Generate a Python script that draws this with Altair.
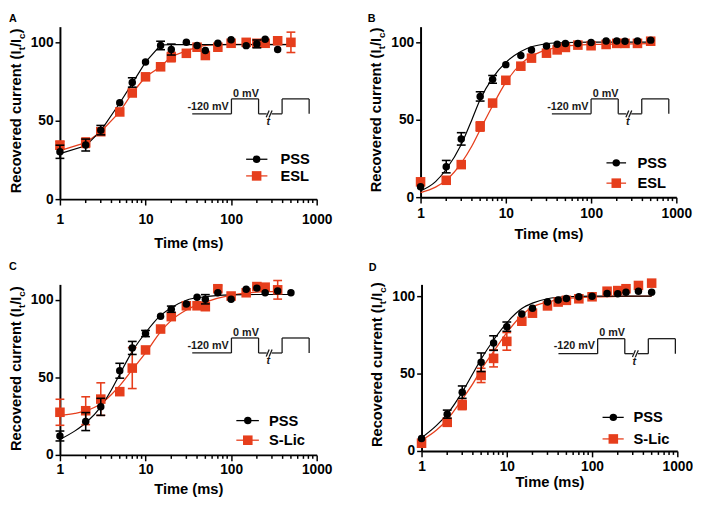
import altair as alt
import pandas as pd

FONT = "Liberation Sans"
BLACK = "#000000"
RED = "#E63E1C"
INK = "#1a1a1a"

TIMES = [1, 2, 3, 5, 7, 10, 15, 20, 30, 40, 50, 70, 100, 150, 200, 250, 350, 500]
CURVE_T = [1, 1.5, 2, 3, 4, 5, 7, 10, 15, 20, 30, 50, 100, 200, 500]
X_MAJOR = [1, 10, 100, 1000]
X_MINOR = [2, 3, 4, 5, 6, 7, 8, 9, 20, 30, 40, 50, 60, 70, 80, 90,
           200, 300, 400, 500, 600, 700, 800, 900]
Y_TICKS = [0, 50, 100]

# ---------------- Panel A ----------------
A_NAMES = ["PSS", "ESL"]
A_PSS = [30.2, 34.5, 44.0, 61.5, 74.4, 87.5, 98.0, 95.4, 100.0, 98.0, 94.8, 99.4, 101.7, 97.9, 99.0, 102.0, 95.4, None]
A_PSS_ERR = [4.2, 3.8, 3.0, 0, 3.0, 0, 2.7, 3.5, 0, 0, 0, 0, 0, 0, 2.5, 0, 0, None]
A_ESL = [34.4, 36.0, 43.0, 55.6, 67.7, 78.0, 84.4, 90.6, 93.0, 96.9, 91.6, 96.9, 99.4, 100.0, 99.4, 99.4, 101.0, 100.0]
A_ESL_ERR = [2.5, 3.0, 2.0, 0, 0, 0, 0, 3.0, 0, 0, 0, 0, 0, 0, 0, 0, 0, 6.5]
A_FIT_T = [1, 2, 3, 5, 7, 10, 15, 20, 30, 40, 50, 70, 100, 500]
A_PSS_FIT = [29.0, 34.0, 43.5, 61.3, 73.8, 87.4, 98.3, 98.5, 98.5, 98.5, 98.5, 98.5, 98.5, 98.5]
A_ESL_FIT = [31.0, 36.0, 43.0, 55.6, 67.7, 78.0, 84.4, 91.0, 94.5, 97.0, 98.0, 98.5, 98.7, 98.7]

# ---------------- Panel B ----------------
B_NAMES = ["PSS", "ESL"]
B_PSS = [6.7, 19.7, 37.6, 65.0, 76.0, 85.5, 91.4, 95.0, 97.5, 98.7, 99.2, 99.2, 99.8, 100.8, 100.8, 100.6, 100.8, 101.3]
B_PSS_ERR = [0, 4.0, 4.0, 3.0, 2.5, 0, 0, 0, 0, 0, 0, 0, 0, 0, 0, 0, 0, 0]
B_ESL = [9.9, 10.9, 21.0, 45.6, 60.7, 75.4, 84.5, 89.7, 92.9, 95.0, 96.6, 98.1, 97.7, 98.5, 99.2, 99.2, 99.2, 100.6]
B_ESL_ERR = [0, 0, 0, 3.0, 0, 0, 0, 0, 0, 0, 0, 0, 0, 0, 0, 0, 0, 0]
B_PSS_FIT = [4.0, 10.0, 18.0, 34.0, 50.0, 63.0, 77.0, 87.0, 94.0, 97.0, 99.0, 99.8, 100.0, 100.0, 100.0]
B_ESL_FIT = [3.0, 6.5, 11.0, 22.0, 33.0, 43.5, 59.0, 74.0, 86.0, 91.0, 95.0, 97.5, 98.5, 98.8, 99.0]

# ---------------- Panel C ----------------
C_NAMES = ["PSS", "S-Lic"]
C_PSS = [12.2, 21.5, 31.0, 54.3, 69.0, 78.3, 89.5, 94.0, 97.3, 101.7, 100.4, 104.6, 100.4, 106.8, 107.6, 104.6, 105.7, 104.6]
C_PSS_ERR = [3.2, 5.8, 5.5, 4.8, 4.2, 2.0, 0, 2.0, 0, 0, 3.0, 0, 0, 0, 0, 0, 0, 0]
C_SLIC = [27.5, 28.5, 36.0, 40.8, 56.0, 67.7, 81.2, 89.2, 96.2, 96.2, 95.6, 107.2, 102.5, 104.6, 108.6, 108.2, 106.5, None]
C_SLIC_ERR = [8.4, 9.0, 10.5, 0, 13.2, 0, 0, 0, 0, 0, 0, 2.0, 0, 0, 0, 0, 6.0, None]
C_PSS_FIT = [10.0, 15.5, 20.6, 31.0, 42.0, 52.0, 66.8, 78.8, 90.0, 95.0, 99.8, 102.0, 103.2, 103.5, 103.5]
C_SLIC_FIT_T = [1, 1.5, 2, 3, 4, 5, 7, 10, 15, 20, 30, 50, 100, 200, 350]
C_SLIC_FIT = [25.4, 26.8, 28.4, 33.0, 39.0, 44.7, 55.0, 65.8, 79.4, 86.8, 93.5, 98.5, 103.0, 105.0, 105.5]

# ---------------- Panel D ----------------
D_NAMES = ["PSS", "S-Lic"]
D_PSS = [8.0, 23.8, 38.0, 57.3, 69.7, 80.3, 88.5, 92.2, 96.2, 97.5, 98.5, 99.6, 100.0, 101.7, 101.5, 102.5, 103.2, 102.5]
D_PSS_ERR = [0, 2.6, 4.0, 6.0, 4.7, 3.0, 0, 0, 0, 0, 0, 0, 0, 0, 0, 0, 0, 0]
D_SLIC = [5.0, 18.5, 29.7, 48.8, 59.8, 70.8, 83.8, 89.0, 93.7, 96.2, 97.3, 98.3, 99.6, 103.2, 103.6, 104.8, 106.9, 108.4]
D_SLIC_ERR = [0, 0, 3.0, 4.6, 5.5, 5.7, 0, 0, 0, 0, 0, 0, 0, 0, 0, 0, 0, 0]
D_PSS_FIT = [8.5, 16.5, 23.8, 38.0, 50.0, 59.4, 71.7, 82.8, 92.0, 95.5, 98.3, 99.6, 100.0, 100.0, 100.0]
D_SLIC_FIT = [6.8, 13.5, 20.2, 33.4, 43.5, 52.5, 64.2, 76.4, 87.7, 93.0, 96.2, 98.5, 99.5, 99.8, 100.0]

Y_TITLE = [("Recovered current (I", False), ("t", True), ("/I", False), ("c", True), (")", False)]
INSET_TEXT = ["-120 mV", "0 mV", "t"]

# Arial/Liberation Sans Bold advance widths (per 1000 em), used for layout of the composed title
AW = {'R': 722, 'e': 556, 'c': 556, 'o': 611, 'v': 556, 'r': 389, 'd': 611, ' ': 278,
      'u': 611, 'n': 611, 't': 333, '(': 333, 'I': 278, '/': 278, ')': 333}


def tw(s, fs):
    return sum(AW[ch] for ch in s) * fs / 1000.0


def pts(means, errs):
    rows = [(t, m, e) for t, m, e in zip(TIMES, means, errs) if m is not None]
    df = pd.DataFrame(rows, columns=["t", "v", "e"])
    df["lo"] = df["v"] - df["e"]
    df["hi"] = df["v"] + df["e"]
    return df


def panel(p):
    xs = alt.Scale(type="log", domain=[1, 1000])
    ys = alt.Scale(domain=[0, p["ymax"]], nice=False)
    xaxis = alt.Axis(values=X_MAJOR, title="Time (ms)", format="d", tickSize=6,
                     labelPadding=p["lp"], titlePadding=p["tp"])
    yaxis = alt.Axis(values=Y_TICKS, title=None, tickSize=5, labelPadding=2)

    def X(f):
        return alt.X(f, type="quantitative", scale=xs, axis=xaxis)

    def Y(f):
        return alt.Y(f, type="quantitative", scale=ys, axis=yaxis)

    def PX(f):
        return alt.X(f, type="quantitative", scale=None)

    def PY(f):
        return alt.Y(f, type="quantitative", scale=None)

    layers = []
    # fitted curves
    red_fit = pd.DataFrame({"t": p["red_fit_t"], "v": p["red_fit"]})
    blk_fit = pd.DataFrame({"t": p["blk_fit_t"], "v": p["blk_fit"]})
    layers.append(alt.Chart(red_fit).mark_line(color=RED, strokeWidth=1.3, interpolate=p["interp"])
                  .encode(x=X("t"), y=Y("v")))
    layers.append(alt.Chart(blk_fit).mark_line(color=BLACK, strokeWidth=1.2, interpolate=p["interp"])
                  .encode(x=X("t"), y=Y("v")))

    # minor ticks of the log axis
    layers.append(alt.Chart(pd.DataFrame({"t": X_MINOR})).mark_rule(color=BLACK, strokeWidth=1.5)
                  .encode(x=X("t"), y=alt.value(p["h"]), y2=alt.value(p["h"] + 4)))

    for df, col, shape in [(p["red"], RED, "square"), (p["blk"], BLACK, "circle")]:
        err = df[df["e"] > 0]
        if len(err):
            layers.append(alt.Chart(err).mark_rule(color=col, strokeWidth=1.6)
                          .encode(x=X("t"), y=Y("lo"), y2="hi"))
            caps = pd.concat([err[["t", "lo"]].rename(columns={"lo": "c"}),
                              err[["t", "hi"]].rename(columns={"hi": "c"})])
            layers.append(alt.Chart(caps).mark_tick(color=col, thickness=1.6, size=9,
                                                    orient="horizontal", opacity=1)
                          .encode(x=X("t"), y=Y("c")))
        if shape == "square":
            layers.append(alt.Chart(df).mark_point(shape="square", filled=True, size=95,
                                                   color=col, opacity=1)
                          .encode(x=X("t"), y=Y("v")))
        else:
            layers.append(alt.Chart(df).mark_point(shape="circle", filled=True, size=58,
                                                   color=col, opacity=1)
                          .encode(x=X("t"), y=Y("v")))

    # inset: voltage protocol schematic (pixel space)
    ox, oy = p["inset"]
    h = 15.3
    segs = [(0, 0, 40, 0), (40, 0, 40, -h), (40, -h, 67.7, -h), (67.7, -h, 67.7, 0),
            (67.7, 0, 76, 0), (75.5, 3.5, 78.5, -3.5), (78.5, 3.5, 81.5, -3.5),
            (81, 0, 91.7, 0), (91.7, 0, 91.7, -h), (91.7, -h, 119.3, -h), (119.3, -h, 119.3, 0)]
    sdf = pd.DataFrame([(ox + a, oy + b, ox + c, oy + d) for a, b, c, d in segs],
                       columns=["x1", "y1", "x2", "y2"])
    layers.append(alt.Chart(sdf).mark_rule(color=INK, strokeWidth=1.3)
                  .encode(x=PX("x1"), y=PY("y1"), x2="x2", y2="y2"))
    t1 = pd.DataFrame({"x": [ox + 37.3], "y": [oy - 4.3], "s": [INSET_TEXT[0]]})
    t2 = pd.DataFrame({"x": [ox + 41.7], "y": [oy - 17.7], "s": [INSET_TEXT[1]]})
    t3 = pd.DataFrame({"x": [ox + 77.5], "y": [oy + 11.5], "s": [INSET_TEXT[2]]})
    for df, al, st in [(t1, "right", "normal"), (t2, "left", "normal"), (t3, "center", "italic")]:
        layers.append(alt.Chart(df).mark_text(align=al, baseline="alphabetic", font=FONT,
                                              fontSize=11, fontWeight="bold", fontStyle=st,
                                              color=INK)
                      .encode(x=PX("x"), y=PY("y"), text="s:N"))

    # legend (pixel space)
    lx0, lx1, lm, lt, ly1, ly2 = p["legend"]
    names = p["names"]
    for name, col, ly, shape, sz in [(names[0], BLACK, ly1, "circle", 58), (names[1], RED, ly2, "square", 95)]:
        ldf = pd.DataFrame({"x0": [lx0], "x1": [lx1], "xm": [lm], "xt": [lt], "y": [ly], "s": [name]})
        layers.append(alt.Chart(ldf).mark_rule(color=col, strokeWidth=1.3)
                      .encode(x=PX("x0"), x2="x1", y=PY("y")))
        layers.append(alt.Chart(ldf).mark_point(shape=shape, filled=True, size=sz, color=col, opacity=1)
                      .encode(x=PX("xm"), y=PY("y")))
        layers.append(alt.Chart(ldf).mark_text(align="left", baseline="middle", font=FONT,
                                               fontSize=15, fontWeight="bold", color=BLACK)
                      .encode(x=PX("xt"), y=PY("y"), text="s:N"))

    # composed y-axis title with subscripts (rotated)
    tx, tc = p["ytitle"]
    rows = []
    total = sum(tw(s, 10 if sub else 15) for s, sub in Y_TITLE)
    cur = tc + total / 2.0
    for s, sub in Y_TITLE:
        fs = 10 if sub else 15
        rows.append({"x": tx + (4 if sub else 0), "y": cur, "s": s, "fs": fs})
        cur -= tw(s, fs)
    tdf = pd.DataFrame(rows)
    layers.append(alt.Chart(tdf).mark_text(align="left", baseline="alphabetic", angle=270,
                                           font=FONT, fontWeight="bold", color=BLACK)
                  .encode(x=PX("x"), y=PY("y"), text="s:N", size=alt.Size("fs:Q", scale=None)))

    # panel letter
    lxp, lyp = p["letter_pos"]
    ldf = pd.DataFrame({"x": [lxp], "y": [lyp], "s": [p["letter"]]})
    layers.append(alt.Chart(ldf).mark_text(align="left", baseline="top", font=FONT, fontSize=11,
                                           fontWeight="bold", color=BLACK)
                  .encode(x=PX("x"), y=PY("y"), text="s:N"))

    return alt.layer(*layers).properties(width=p["w"], height=p["h"])


PANELS = {
    "A": dict(letter="A", names=A_NAMES, blk=pts(A_PSS, A_PSS_ERR), red=pts(A_ESL, A_ESL_ERR),
              blk_fit_t=A_FIT_T, blk_fit=A_PSS_FIT, red_fit_t=A_FIT_T, red_fit=A_ESL_FIT,
              interp="linear", w=262, h=176, ymax=110, lp=8, tp=9, inset=(135, 89),
              legend=(190, 211.7, 200.7, 225, 135.3, 152.3), ytitle=(-40, 86), letter_pos=(-52, -14)),
    "B": dict(letter="B", names=B_NAMES, blk=pts(B_PSS, B_PSS_ERR), red=pts(B_ESL, B_ESL_ERR),
              blk_fit_t=CURVE_T, blk_fit=B_PSS_FIT, red_fit_t=CURVE_T, red_fit=B_ESL_FIT,
              interp="monotone", w=261, h=174, ymax=110, lp=4, tp=6, inset=(134, 89),
              legend=(189.7, 209.7, 199.7, 221.3, 139, 159.7), ytitle=(-40, 85), letter_pos=(-54, -14)),
    "C": dict(letter="C", names=C_NAMES, blk=pts(C_PSS, C_PSS_ERR), red=pts(C_SLIC, C_SLIC_ERR),
              blk_fit_t=CURVE_T, blk_fit=C_PSS_FIT, red_fit_t=C_SLIC_FIT_T, red_fit=C_SLIC_FIT,
              interp="monotone", w=262, h=174, ymax=110, lp=2, tp=5, inset=(135, 70),
              legend=(180, 203, 191.7, 213.3, 139, 159), ytitle=(-40, 86), letter_pos=(-52, -24)),
    "D": dict(letter="D", names=D_NAMES, blk=pts(D_PSS, D_PSS_ERR), red=pts(D_SLIC, D_SLIC_ERR),
              blk_fit_t=CURVE_T, blk_fit=D_PSS_FIT, red_fit_t=CURVE_T, red_fit=D_SLIC_FIT,
              interp="monotone", w=261, h=170, ymax=107.6, lp=3, tp=1, inset=(139.7, 70.7),
              legend=(184.7, 206.3, 195.7, 216.3, 135.7, 157.7), ytitle=(-40, 82), letter_pos=(-54, -23)),
}

row1 = alt.hconcat(panel(PANELS["A"]), panel(PANELS["B"]), spacing=36)
row2 = alt.hconcat(panel(PANELS["C"]), panel(PANELS["D"]), spacing=37)

chart = alt.vconcat(row1, row2, spacing=11).properties(padding=0).configure_view(
    stroke=None
).configure_axis(
    domainColor=BLACK, domainWidth=2, tickColor=BLACK, tickWidth=1.5, grid=False,
    labelFont=FONT, labelFontSize=14, labelFontWeight="bold", labelColor=BLACK,
    titleFont=FONT, titleFontSize=15, titleFontWeight="bold", titleColor=BLACK,
    labelFlush=False, labelOverlap=False
)

chart.save("out.html", embed_options={"renderer": "svg", "actions": False})
